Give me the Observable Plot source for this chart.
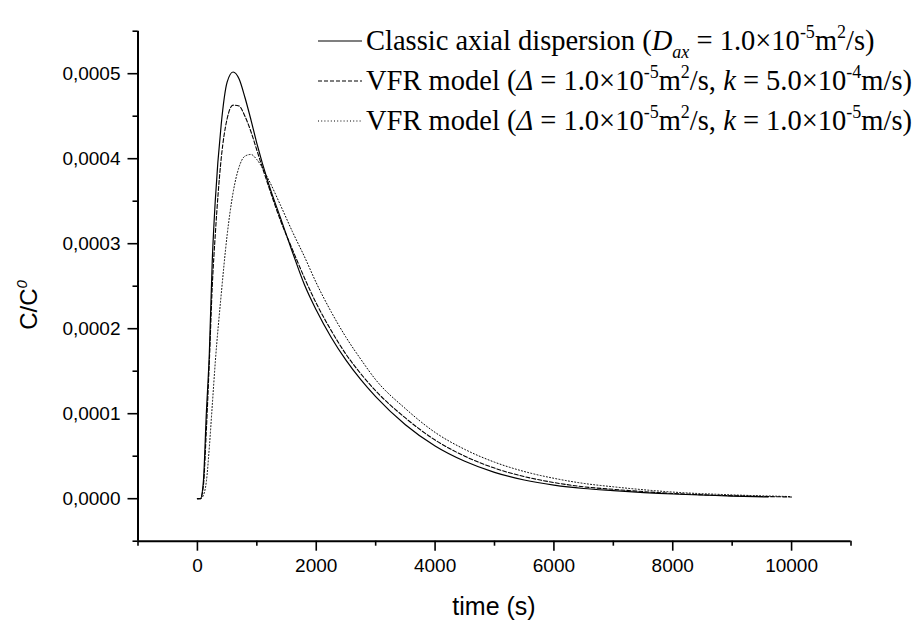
<!DOCTYPE html>
<html><head><meta charset="utf-8">
<script src="https://cdn.jsdelivr.net/npm/d3@7"></script>
<script src="https://cdn.jsdelivr.net/npm/@observablehq/plot@0.6"></script>
<style>body{margin:0;background:#fff;}</style>
</head><body><div id="chart"></div>
<script>
// time (s)
const timeClassic = [0,50,100,150,200,250,300,400,500,600,700,800,900,1000,1200,1400,1600,1800,2000,2250,2500,2750,3000,3500,4000,4500,5000,5500,6000,6500,7000,8000,9000,9600];
const classicDispersion = [0,0,0.00002,0.0001,0.00017,0.00028,0.00035,0.00044,0.00049,0.000502,0.000494,0.000472,0.000446,0.000418,0.00037,0.00033,0.00029,0.000252,0.000222,0.00019,0.000163,0.00014,0.00012,0.000087,0.000062,0.000044,0.000031,0.000022,0.000016,0.000012,0.0000095,0.0000055,0.000003,0.000002];
const timeVfr = [0,50,100,150,200,250,300,400,500,600,700,800,900,1000,1200,1400,1600,1800,2000,2250,2500,2750,3000,3500,4000,4500,5000,5500,6000,6500,7000,8000,9000,10000];
const vfrHighK = [0,0,0.000015,0.00008,0.00016,0.00025,0.00031,0.0004,0.000447,0.000463,0.000462,0.00045,0.000432,0.00041,0.000367,0.000327,0.000293,0.00026,0.00023,0.000198,0.00017,0.000147,0.000127,0.000095,0.000069,0.00005,0.000036,0.000026,0.000019,0.000014,0.000011,0.0000062,0.0000035,0.000002];
const vfrLowK = [0,0,0.000004,0.00002,0.00006,0.00011,0.00016,0.00024,0.00031,0.00036,0.00039,0.000403,0.000405,0.000399,0.000375,0.000345,0.000314,0.000285,0.000254,0.00022,0.00019,0.000164,0.00014,0.000106,0.000078,0.000058,0.000043,0.000032,0.000024,0.000018,0.000014,0.0000078,0.0000045,0.0000025];

const xMajor = [0,2000,4000,6000,8000,10000];
const xMinor = [-1000,1000,3000,5000,7000,9000,11000];
const yMajor = [0,0.0001,0.0002,0.0003,0.0004,0.0005];
const yMinor = [-0.00005,0.00005,0.00015,0.00025,0.00035,0.00045,0.00055];

const rowsClassic = timeClassic.map((t,i)=>({t, c: classicDispersion[i]}));
const rowsHigh = timeVfr.map((t,i)=>({t, c: vfrHighK[i]}));
const rowsLow = timeVfr.map((t,i)=>({t, c: vfrLowK[i]}));

const fmt = d => d3.format(".4f")(d).replace(".", ",");
const sans = "'Liberation Sans', Arial, sans-serif";

const chart = Plot.plot({
  width: 922, height: 620,
  marginLeft: 137.5, marginRight: 71.5, marginTop: 30.7, marginBottom: 79.3,
  style: {fontFamily: sans, fontSize: "19px", color: "black", background: "white"},
  x: {domain: [-1000, 11000], label: null},
  y: {domain: [-0.00005, 0.00055], label: null},
  marks: [
    Plot.axisY(yMinor, {tickSize: 5, text: null, strokeWidth: 1.6}),
    Plot.axisY(yMajor, {tickSize: 10, tickPadding: 7.5, tickFormat: fmt, strokeWidth: 1.6, label: null, fontSize: 19}),
    Plot.axisX(xMinor, {tickSize: 5, text: null, strokeWidth: 1.6}),
    Plot.axisX(xMajor, {tickSize: 10, tickPadding: 7, tickFormat: d => String(d), strokeWidth: 1.6, label: null, fontSize: 19}),
    Plot.ruleX([-1000], {stroke: "black", strokeWidth: 2}),
    Plot.ruleY([-0.00005], {stroke: "black", strokeWidth: 2}),
    Plot.line(rowsLow, {x: "t", y: "c", stroke: "black", strokeWidth: 1, strokeDasharray: "1,2.2", curve: "monotone-x"}),
    Plot.line(rowsHigh, {x: "t", y: "c", stroke: "black", strokeWidth: 1.1, strokeDasharray: "4,2", curve: "monotone-x"}),
    Plot.line(rowsClassic, {x: "t", y: "c", stroke: "black", strokeWidth: 1.2, curve: "monotone-x"})
  ]
});
document.getElementById("chart").appendChild(chart);

const svg = d3.select(chart);
// axis titles
svg.append("text").attr("x", 494).attr("y", 615).attr("text-anchor", "middle")
  .attr("font-family", sans).attr("font-size", 25).attr("fill", "black").text("time (s)");
const yl = svg.append("text").attr("transform", "translate(37,305) rotate(-90)").attr("text-anchor", "middle")
  .attr("font-family", sans).attr("font-size", 24).attr("fill", "black");
yl.append("tspan").text("C/C");
yl.append("tspan").attr("dy", -10).attr("font-size", 15).attr("font-style", "italic").text("0");

// legend
const serif = "'Liberation Serif', 'Times New Roman', serif";
const legendItems = [
  {dash: null, parts: [["Classic axial dispersion ("], ["D","i"], ["ax","isub"], [" = 1.0×10"], ["-5","sup"], ["m"], ["2","sup"], ["/s)"]]},
  {dash: "4,2", parts: [["VFR model ("], ["Δ","i"], [" = 1.0×10"], ["-5","sup"], ["m"], ["2","sup"], ["/s, "], ["k","i"], [" = 5.0×10"], ["-4","sup"], ["m/s)"]]},
  {dash: "1,2.2", parts: [["VFR model ("], ["Δ","i"], [" = 1.0×10"], ["-5","sup"], ["m"], ["2","sup"], ["/s, "], ["k","i"], [" = 1.0×10"], ["-5","sup"], ["m/s)"]]}
];
const legendY = [41, 81, 121];
legendItems.forEach((item, i) => {
  const y = legendY[i];
  svg.append("line").attr("x1", 318).attr("x2", 362).attr("y1", y).attr("y2", y)
    .attr("stroke", "black").attr("stroke-width", 1.1).attr("stroke-dasharray", item.dash);
  const t = svg.append("text").attr("x", 366).attr("y", y + 9).attr("text-anchor", "start")
    .attr("font-family", serif).attr("font-size", 28.5).attr("fill", "black");
  let off = 0;
  item.parts.forEach(([s, k]) => {
    const ts = t.append("tspan").text(s);
    let target = 0;
    if (k === "sup") { target = -12; ts.attr("font-size", 18); }
    else if (k === "isub") { target = 8; ts.attr("font-size", 18).attr("font-style", "italic"); }
    else if (k === "i") { ts.attr("font-style", "italic"); }
    if (target !== off) { ts.attr("dy", target - off); off = target; }
  });
});
</script>
</body></html>
